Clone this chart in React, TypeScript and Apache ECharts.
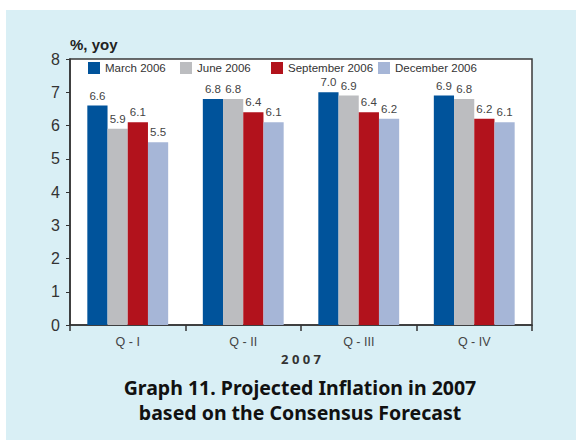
import React, { useEffect, useRef } from "react";
import * as echarts from "echarts";

const quarters = ["Q - I", "Q - II", "Q - III", "Q - IV"];
const seriesNames = ["March 2006", "June 2006", "September 2006", "December 2006"];
const march2006 = [6.6, 6.8, 7.0, 6.9];
const june2006 = [5.9, 6.8, 6.9, 6.8];
const september2006 = [6.1, 6.4, 6.4, 6.2];
const december2006 = [5.5, 6.1, 6.2, 6.1];
const seriesColors = ["#00539b", "#bcbdc0", "#b2121c", "#a6b6d7"];
const legendLefts = [88, 180, 271, 378];

const narrow = "'Liberation Sans', Arial, sans-serif";

export default function App() {
  const ref = useRef<HTMLDivElement>(null);

  useEffect(() => {
    if (!ref.current) return;
    const chart = echarts.init(ref.current, null, { renderer: "svg" });
    const values = [march2006, june2006, september2006, december2006];

    chart.setOption({
      animation: false,
      backgroundColor: "#ffffff",
      graphic: [
        {
          type: "rect",
          z: -10,
          shape: { x: 6, y: 10, width: 570, height: 430 },
          style: { fill: "#d9eff5" },
        },
        {
          type: "text",
          x: 70,
          y: 37,
          style: {
            text: "%, yoy",
            font: "bold 15px " + narrow,
            fill: "#222",
          },
        },
        {
          type: "text",
          x: 301,
          y: 352,
          style: {
            text: "2 0 0 7",
            font: "bold 13px 'Noto Sans', sans-serif",
            fill: "#333",
            align: "center",
          },
        },
        {
          type: "text",
          x: 300,
          y: 375,
          style: {
            text: "Graph 11. Projected Inflation in 2007\nbased on the Consensus Forecast",
            font: "bold 19.5px 'Noto Sans', sans-serif",
            lineHeight: 25,
            fill: "#111",
            align: "center",
          },
        },
      ],
      legend: seriesNames.map((name, i) => ({
        top: 62,
        left: legendLefts[i],
        itemWidth: 12,
        itemHeight: 12,
        itemGap: 0,
        icon: "rect",
        padding: 0,
        data: [name],
        textStyle: { fontFamily: narrow, fontSize: 11.5, color: "#333" },
      })),
      grid: {
        left: 70,
        right: 44,
        top: 59,
        bottom: 121,
        show: true,
        backgroundColor: "#ffffff",
        borderColor: "#3a3a3a",
        borderWidth: 1.5,
      },
      xAxis: {
        type: "category",
        data: quarters,
        axisLine: { lineStyle: { color: "#333", width: 1.5 } },
        axisTick: { show: true, length: 6, lineStyle: { color: "#333", width: 1.5 } },
        axisLabel: { fontFamily: narrow, fontSize: 12.5, color: "#444", margin: 10 },
      },
      yAxis: {
        type: "value",
        min: 0,
        max: 8,
        interval: 1,
        splitLine: { show: false },
        axisLine: { show: true, lineStyle: { color: "#333", width: 1.5 } },
        axisTick: { show: true, length: 4, lineStyle: { color: "#333" } },
        axisLabel: { fontFamily: narrow, fontSize: 16, color: "#333", margin: 10 },
      },
      series: seriesNames.map((name, i) => ({
        name,
        type: "bar",
        data: values[i],
        barGap: "0%",
        barCategoryGap: "30%",
        itemStyle: { color: seriesColors[i] },
        label: {
          show: true,
          position: "top",
          distance: 4,
          formatter: (p: any) => p.value.toFixed(1),
          fontFamily: narrow,
          fontSize: 11.5,
          color: "#444",
        },
      })),
    });

    return () => chart.dispose();
  }, []);

  return (
    <div
      ref={ref}
      style={{ position: "fixed", left: 0, top: 0, width: 576, height: 446 }}
    />
  );
}
